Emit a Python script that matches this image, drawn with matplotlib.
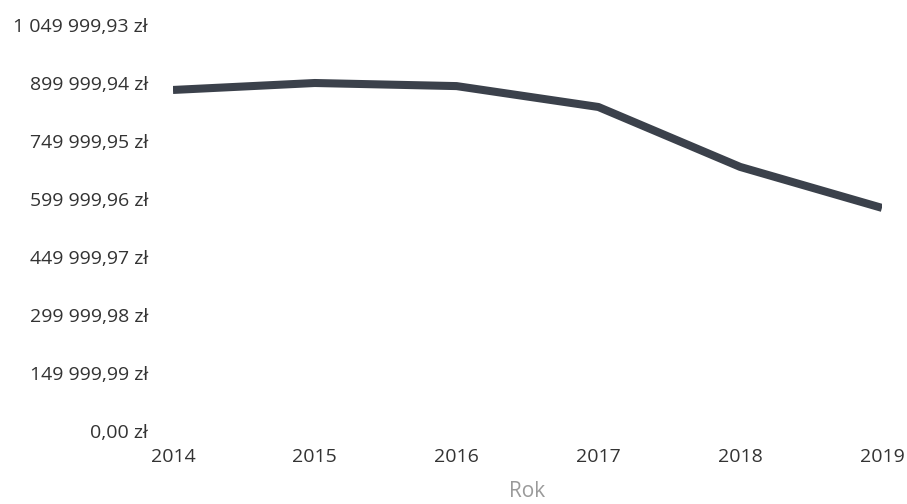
import numpy as np
import matplotlib.pyplot as plt

# Data
years = [2014, 2015, 2016, 2017, 2018, 2019]
values = [882000, 900000, 892000, 838000, 683000, 577000]
y_step = 149999.99
y_ticks = np.arange(8) * y_step


def fmt_pln(v):
    s = f"{v:,.2f}".replace(",", " ").replace(".", ",")
    return s + " zł"


plt.rcParams['font.family'] = ['Open Sans', 'DejaVu Sans']

fig = plt.figure(figsize=(9.07, 5.04), dpi=100)
ax = fig.add_axes([0.1907, 0.1448, 0.7817, 0.8056])

ax.plot(years, values, color='#3b414b', linewidth=5.8, solid_capstyle='butt',
        solid_joinstyle='round')

ax.set_xlim(years[0], years[-1])
ax.set_ylim(0, y_ticks[-1])
ax.set_xticks(years)
ax.set_xticklabels([str(y) for y in years])
ax.set_yticks(y_ticks)
ax.set_yticklabels([fmt_pln(v) for v in y_ticks])

for s in ax.spines.values():
    s.set_visible(False)
ax.tick_params(axis='both', length=0, labelsize=14, labelcolor='#333333')
ax.tick_params(axis='x', pad=12)
ax.tick_params(axis='y', pad=18)

ax.set_xlabel('Rok', fontsize=15, color='#9a9a9a', labelpad=11)

fig.savefig('out.png', dpi=100)
